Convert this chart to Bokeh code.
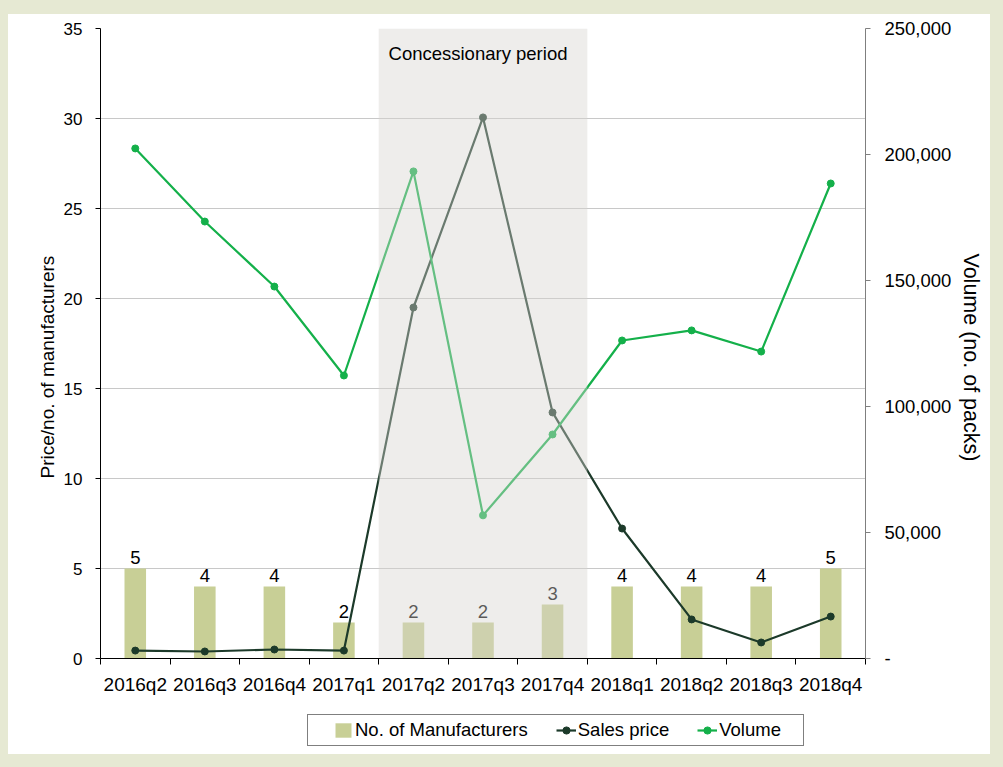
from bokeh.plotting import figure
from bokeh.models import (Range1d, LinearAxis, FixedTicker, NumeralTickFormatter,
                          Legend, LegendItem, ColumnDataSource, Title)
from bokeh.layouts import column
from bokeh.core.properties import value
from bokeh.embed import file_html
from bokeh.resources import INLINE

categories = ["2016q2", "2016q3", "2016q4", "2017q1", "2017q2", "2017q3",
              "2017q4", "2018q1", "2018q2", "2018q3", "2018q4"]
manufacturers = [5, 4, 4, 2, 2, 2, 3, 4, 4, 4, 5]
sales_price = [0.44, 0.39, 0.5, 0.44, 19.5, 30.06, 13.67, 7.22, 2.17, 0.89, 2.33]
volume = [202400, 173400, 147600, 112300, 193300, 56800, 88900, 126200, 130200, 121800, 188500]
left_ticks = [0, 5, 10, 15, 20, 25, 30, 35]
right_ticks = [0, 50000, 100000, 150000, 200000, 250000]
concession_start, concession_end = "2017q2", "2017q4"

FONT = "Liberation Sans"
DARK = "#1c3a2a"
GREEN = "#14b04a"
BAR = "#c8cf96"
n = len(categories)
xs = list(range(n))

src = ColumnDataSource(dict(x=xs, cat=categories, m=manufacturers, p=sales_price,
                            v=volume, lab=[str(v) for v in manufacturers]))

p = figure(width=982, height=700, output_backend="svg", toolbar_location=None,
           x_range=Range1d(-0.5, n - 0.5), y_range=Range1d(0, 35),
           min_border_left=92, min_border_right=125, min_border_top=14,
           min_border_bottom=56, background_fill_color="white",
           border_fill_color="white", outline_line_color=None)
p.extra_y_ranges = {"vol": Range1d(0, 250000)}

# grid
p.xgrid.grid_line_color = None
p.ygrid.grid_line_color = "#c8c8c8"
p.ygrid.ticker = FixedTicker(ticks=left_ticks)

# x axis
xa = p.xaxis[0]
xa.ticker = FixedTicker(ticks=xs, minor_ticks=[i - 0.5 for i in range(n + 1)])
xa.major_label_overrides = {i: c for i, c in enumerate(categories)}
xa.major_tick_out = 0
xa.major_tick_in = 0
xa.minor_tick_out = 6
xa.minor_tick_in = 0
xa.minor_tick_line_color = "black"
xa.axis_line_color = "black"
xa.major_label_text_font = FONT
xa.major_label_text_font_size = "19px"
xa.major_label_text_color = "black"
xa.major_label_standoff = 9

# left axis
ya = p.yaxis[0]
ya.ticker = FixedTicker(ticks=left_ticks)
ya.major_tick_out = 5
ya.major_tick_in = 0
ya.minor_tick_out = 0
ya.minor_tick_in = 0
ya.axis_line_color = "black"
ya.major_tick_line_color = "black"
ya.major_label_text_font = FONT
ya.major_label_text_font_size = "17px"
ya.major_label_text_color = "black"
ya.major_label_standoff = 13

# right axis
ra = LinearAxis(y_range_name="vol", ticker=FixedTicker(ticks=right_ticks),
                formatter=NumeralTickFormatter(format="0,0"))
ra.major_label_overrides = {0: "-"}
ra.major_tick_out = 5
ra.major_tick_in = 0
ra.minor_tick_out = 0
ra.minor_tick_in = 0
ra.axis_line_color = "#7f7f7f"
ra.major_tick_line_color = "#7f7f7f"
ra.major_label_text_font = FONT
ra.major_label_text_font_size = "18.5px"
ra.major_label_text_color = "black"
ra.major_label_standoff = 14
p.add_layout(ra, "right")

# axis titles (offset along the axis as in the original)
lt = Title(text="Price/no. of manufacturers", align="left", offset=180,
           text_font=FONT, text_font_size="19px", text_font_style="normal",
           text_color="black", standoff=6)
p.add_layout(lt, "left")
rt = Title(text="Volume (no. of packs)", align="left", offset=225,
           text_font=FONT, text_font_size="21.5px", text_font_style="normal",
           text_color="black", standoff=8)
p.add_layout(rt, "right")

# bars
p.vbar(x="x", top="m", width=0.31, source=src, fill_color=BAR, line_color=None)
p.text(x="x", y="m", text="lab", source=src, text_align="center",
       text_baseline="bottom", y_offset=-5, text_font=value(FONT),
       text_font_size="18.5px", text_color="black")

# lines
p.line(x="x", y="p", source=src, line_color=DARK, line_width=2.2)
p.scatter(x="x", y="p", source=src, size=7, fill_color=DARK, line_color=DARK)
p.line(x="x", y="v", source=src, line_color=GREEN, line_width=2.2, y_range_name="vol")
p.scatter(x="x", y="v", source=src, size=7, fill_color=GREEN, line_color=GREEN,
          y_range_name="vol")

# concessionary shading (overlay)
i0 = categories.index(concession_start)
i1 = categories.index(concession_end)
p.quad(left=[i0 - 0.5], right=[i1 + 0.5], bottom=[0], top=[35],
       fill_color=(214, 212, 207), fill_alpha=0.42, line_color=None)
p.text(x=[(i0 + i1) / 2], y=[34.2], text=["Concessionary period"],
       text_align="center", text_baseline="top", x_offset=-5,
       text_font=value(FONT), text_font_size="18.5px", text_color="black")

# legend in its own strip (proxy renderers kept out of view)
pl = figure(width=982, height=40, output_backend="svg", toolbar_location=None,
            x_range=Range1d(1000, 1001), y_range=Range1d(1000, 1001), min_border=0,
            background_fill_color="white", border_fill_color="white",
            outline_line_color=None)
pl.axis.visible = False
pl.grid.visible = False
r_bar = pl.vbar(x="x", top="m", width=0.31, source=src, fill_color=BAR, line_color=None)
r_l1 = pl.line(x="x", y="p", source=src, line_color=DARK, line_width=2.2)
r_c1 = pl.scatter(x="x", y="p", source=src, size=7, fill_color=DARK, line_color=DARK)
r_l2 = pl.line(x="x", y="v", source=src, line_color=GREEN, line_width=2.2)
r_c2 = pl.scatter(x="x", y="v", source=src, size=7, fill_color=GREEN, line_color=GREEN)

legend = Legend(items=[
    LegendItem(label="No. of Manufacturers", renderers=[r_bar]),
    LegendItem(label="Sales price", renderers=[r_l1, r_c1]),
    LegendItem(label="Volume", renderers=[r_l2, r_c2]),
], orientation="horizontal", location=(207, 8))
legend.title = "\u00a0"
legend.title_location = "left"
legend.title_text_font_size = "4px"
legend.title_standoff = 16
legend.label_text_font = FONT
legend.label_text_font_size = "18.5px"
legend.label_text_color = "black"
legend.border_line_color = "black"
legend.border_line_width = 1
legend.background_fill_color = "white"
legend.padding = 4
legend.spacing = 28
legend.glyph_width = 20
legend.glyph_height = 18
legend.label_height = 18
legend.label_standoff = 2
legend.label_width = 80
legend.margin = 0
pl.add_layout(legend, "center")

layout = column(p, pl, spacing=0,
                styles={"background-color": "white",
                        "border-style": "solid",
                        "border-color": "#e6e9d3",
                        "border-width": "14px 13px 13px 8px"})

html = file_html(layout, INLINE)
open("out.html", "w").write(html)
